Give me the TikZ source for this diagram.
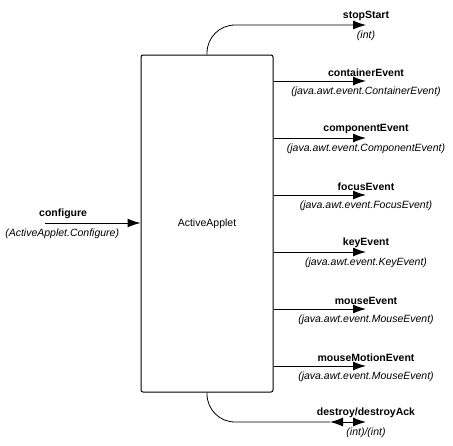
\documentclass[tikz,border=0pt]{standalone}
\usepackage{fontspec}
\setmainfont{Liberation Sans}
\usepackage{tikz}
\usetikzlibrary{arrows.meta}

\begin{document}
\begin{tikzpicture}[x=1pt,y=1pt,
    font=\fontsize{10.5}{12}\selectfont,
    punta/.tip={Latex[length=13pt,width=9pt]},
    puerto/.style={-punta,line width=1pt,black},
    curva/.style={line width=0.8pt,black,rounded corners=28pt},
    nombre/.style={above,inner sep=0pt,yshift=4pt,black,font=\fontsize{10.5}{12}\selectfont\bfseries},
    tipo/.style={below,inner sep=0pt,yshift=-5pt,black,font=\fontsize{10.5}{12}\selectfont\itshape}]
  \useasboundingbox (0,0) rectangle (453,-445);

  \node[draw=black,line width=1pt,rounded corners=2pt,minimum width=132pt,
        minimum height=337pt,inner sep=0pt] (applet) at (207,-223.5) {ActiveApplet};

  % entrada
  \coordinate (cf) at (45,-223);
  \draw[puerto] (cf) -- (applet.west |- cf)
    node[pos=0.19,nombre] {configure}
    node[pos=0.18,tipo] {(ActiveApplet.Configure)};

  % stopStart
  \coordinate (ss) at (366,-25);
  \draw[curva,-punta] (applet.north) |- (ss) node[nombre] {stopStart} node[tipo] {(int)};

  % salidas
  \coordinate (ce) at (366,-81);
  \coordinate (co) at (366,-138);
  \coordinate (fe) at (366,-195);
  \coordinate (ke) at (366,-252);
  \coordinate (me) at (366,-309);
  \coordinate (mm) at (366,-366);
  \draw[puerto] (applet.east |- ce) -- (ce)
    node[nombre] {containerEvent} node[tipo] {(java.awt.event.ContainerEvent)};
  \draw[puerto] (applet.east |- co) -- (co)
    node[nombre] {componentEvent} node[tipo] {(java.awt.event.ComponentEvent)};
  \draw[puerto] (applet.east |- fe) -- (fe)
    node[nombre] {focusEvent} node[tipo] {(java.awt.event.FocusEvent)};
  \draw[puerto] (applet.east |- ke) -- (ke)
    node[nombre] {keyEvent} node[tipo] {(java.awt.event.KeyEvent)};
  \draw[puerto] (applet.east |- me) -- (me)
    node[nombre] {mouseEvent} node[tipo] {(java.awt.event.MouseEvent)};
  \draw[puerto] (applet.east |- mm) -- (mm)
    node[nombre] {mouseMotionEvent} node[tipo] {(java.awt.event.MouseEvent)};

  % destroy
  \coordinate (da) at (330,-422);
  \coordinate (db) at (366,-422);
  \draw[curva] (applet.south) |- (da);
  \draw[puerto,punta-punta] (da) -- (db) node[nombre] {destroy/destroyAck} node[tipo] {(int)/(int)};
\end{tikzpicture}
\end{document}
